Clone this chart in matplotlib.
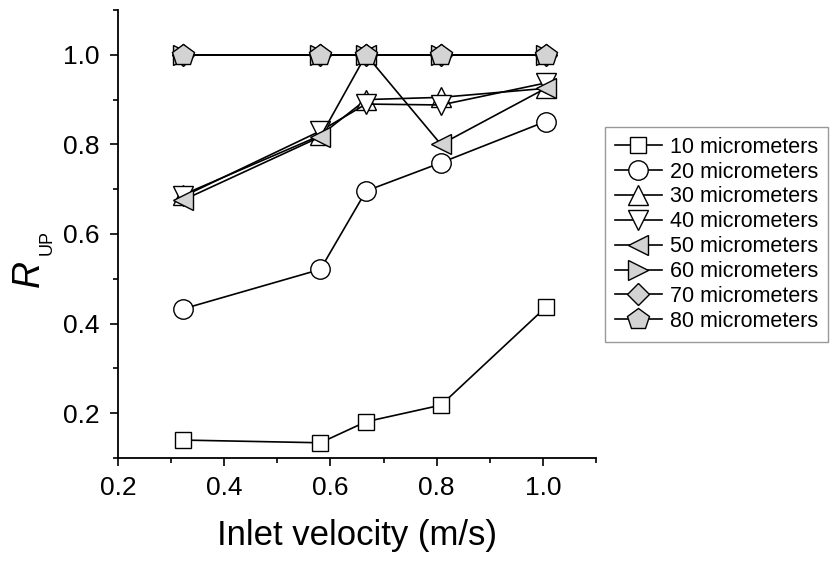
import numpy as np
import matplotlib.pyplot as plt
from matplotlib.ticker import MultipleLocator

plt.rcParams['font.family'] = ['Liberation Sans', 'DejaVu Sans']

# inlet velocities (m/s)
velocity = [0.323, 0.581, 0.667, 0.808, 1.005]

labels = ["10 micrometers", "20 micrometers", "30 micrometers", "40 micrometers",
          "50 micrometers", "60 micrometers", "70 micrometers", "80 micrometers"]

r_10 = [0.140, 0.134, 0.181, 0.218, 0.436]
r_20 = [0.433, 0.521, 0.696, 0.759, 0.851]
r_30 = [0.688, 0.820, 0.900, 0.905, 0.925]
r_40 = [0.684, 0.830, 0.890, 0.888, 0.937]
r_50 = [0.676, 0.817, 1.000, 0.800, 0.925]
r_60 = [1.0, 1.0, 1.0, 1.0, 1.0]
r_70 = [1.0, 1.0, 1.0, 1.0, 1.0]
r_80 = [1.0, 1.0, 1.0, 1.0, 1.0]

series = [r_10, r_20, r_30, r_40, r_50, r_60, r_70, r_80]
markers = ['s', 'o', '^', 'v', '<', '>', 'D', 'p']
sizes = [12, 14, 15, 15, 15, 15, 11, 16]
fills = ['white'] * 4 + ['#d3d3d3'] * 4

fig = plt.figure(figsize=(8.33, 5.61), dpi=100)
ax = fig.add_axes([0.1417, 0.1836, 0.5738, 0.7986])

for y, lab, m, ms, fc in zip(series, labels, markers, sizes, fills):
    ax.plot(velocity, y, color='black', linewidth=1.2, marker=m, markersize=ms,
            markerfacecolor=fc, markeredgecolor='black', markeredgewidth=1.0,
            label=lab)

ax.set_xlim(0.2, 1.1)
ax.set_ylim(0.1, 1.1)
ax.xaxis.set_minor_locator(MultipleLocator(0.1))
ax.yaxis.set_minor_locator(MultipleLocator(0.1))
ax.set_xticks([0.2, 0.4, 0.6, 0.8, 1.0])
ax.set_yticks([0.2, 0.4, 0.6, 0.8, 1.0])
ax.xaxis.set_major_formatter(plt.FormatStrFormatter('%.1f'))
ax.yaxis.set_major_formatter(plt.FormatStrFormatter('%.1f'))

for side in ['top', 'right']:
    ax.spines[side].set_visible(False)
for side in ['left', 'bottom']:
    ax.spines[side].set_linewidth(1.3)

ax.tick_params(which='major', direction='out', length=6, width=1.2,
               labelsize=19, pad=7)
ax.tick_params(which='minor', direction='out', length=3.5, width=1.2)

# axis titles
fig.text(357 / 833, 1 - 535 / 561, "Inlet velocity (m/s)", fontsize=25,
         ha='center', va='center')
fig.text(29 / 833, 1 - 273 / 561, "R", fontsize=27, style='italic',
         rotation=90, ha='center', va='center')
fig.text(47 / 833, 1 - 242.5 / 561, "UP", fontsize=13,
         rotation=90, ha='center', va='center')

leg = ax.legend(loc='upper left', bbox_to_anchor=(0.7263, 0.7736),
                bbox_transform=fig.transFigure, fontsize=15.5,
                frameon=True, fancybox=False, handlelength=2.2,
                handletextpad=0.35, labelspacing=0.18, borderpad=0.45,
                borderaxespad=0)
leg.get_frame().set_edgecolor('#808080')
leg.get_frame().set_linewidth(1.0)

plt.savefig("out.png", dpi=100)
